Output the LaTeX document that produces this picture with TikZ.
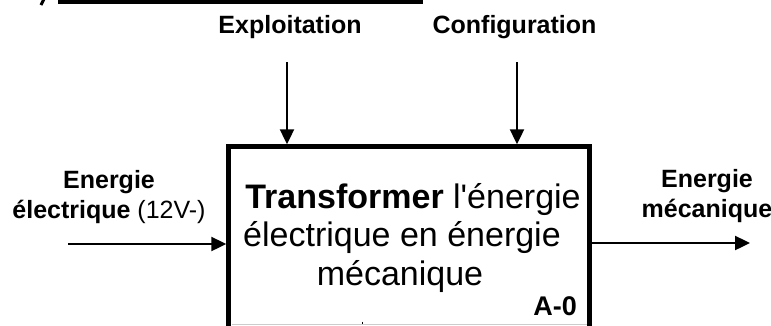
\documentclass[tikz,border=0pt]{standalone}
\usepackage{fontspec}
\setmainfont{Liberation Sans}
\usetikzlibrary{arrows.meta}
\begin{document}
\begin{tikzpicture}[x=1pt,y=-1pt,
  flow/.style={line width=2.4pt,-{Triangle[length=15pt,width=14pt]}},
  lbl/.style={font=\fontsize{25}{30}\selectfont,align=center,inner sep=0pt},
  big/.style={font=\fontsize{34}{38.5}\selectfont,align=center,inner sep=0pt},
  boxstyle/.style={draw,line width=4.5pt,inner sep=0pt,minimum width=361pt,minimum height=213.5pt}]
\useasboundingbox (0,0) rectangle (771,325);
\clip (0,0) rectangle (771,325);
% top fragments
\fill (58,0) rectangle (423,4);
\draw[line width=3pt] (44,-1) -- (41,5);
% box
\node[boxstyle] (box) at (409,253.25) {};
% bottom faint line
\draw[black!20,line width=1pt] (232,324) -- (587,324);
\draw[line width=0.8pt] (362,321.5) -- (362,323.5);
% labels
\node[lbl,anchor=base] (expl) at (290,33) {\bfseries Exploitation};
\node[lbl,anchor=base] (conf) at (514.5,33) {\bfseries Configuration};
\node[lbl,anchor=base] (ein) at (109,218) {\bfseries Energie\\\bfseries électrique \mdseries(12V-)};
\node[lbl,anchor=base] (eout) at (707,217) {\bfseries Energie\\\bfseries mécanique};
\node[big,anchor=base] (fn) at (413,285) {\textbf{Transformer} l\textquotesingle énergie\\électrique en énergie\hbox to 22pt{\hfil}\\mécanique\hbox to 26pt{\hfil}};
\node[font=\fontsize{27}{30}\selectfont\bfseries,inner sep=0pt,anchor=base east] (code) at (577,315) {A-0};
% arrows
\coordinate (et) at (287,62);
\coordinate (ct) at (517,62);
\coordinate (ins) at (68,244);
\coordinate (outs) at (750,243);
\draw[flow] (et) -- (et |- box.north);
\draw[flow] (ct) -- (ct |- box.north);
\draw[flow] (ins) -- (ins -| box.west);
\draw[flow] (outs -| box.east) -- (outs);
\end{tikzpicture}
\end{document}
